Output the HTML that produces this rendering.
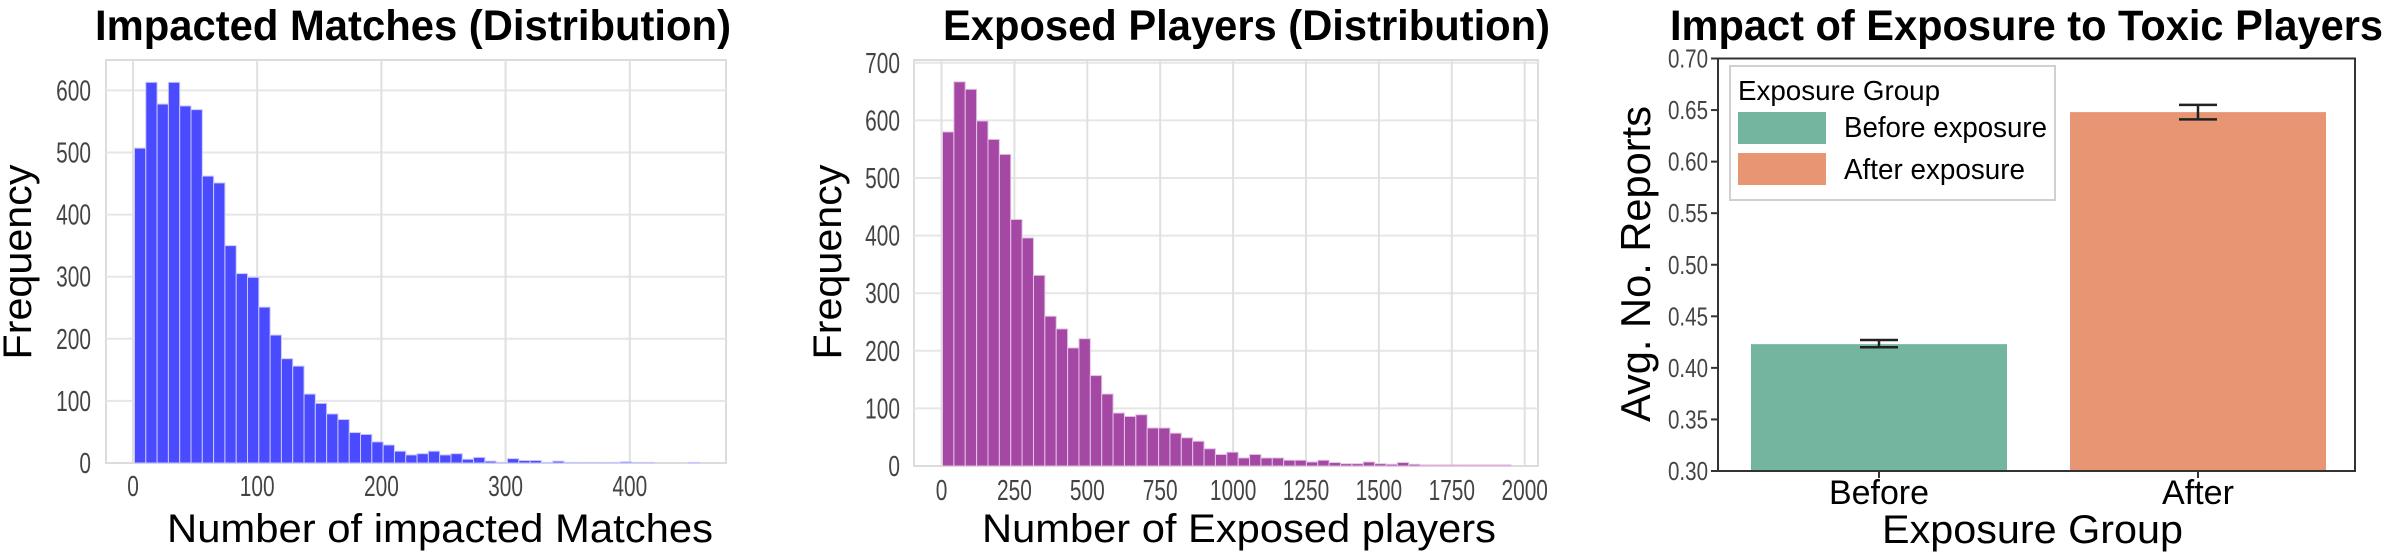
<!DOCTYPE html>
<html><head><meta charset="utf-8"><style>
html,body{margin:0;padding:0;background:#fff;}
svg{display:block;}
</style></head><body>
<svg id="fig" width="2385" height="553" viewBox="0 0 2385 553" xmlns="http://www.w3.org/2000/svg" font-family="Liberation Sans, sans-serif"></svg>
<script>
// ---- Chart 1 data ----
const c1BinWidth = 9.1;
const c1Counts = [507,613,578,613,575,569,462,451,350,305,299,251,206,168,156,111,96,79,70,49,46,34,29,19,13,15,19,13,15,6,9,3,1,7,4,4,1,3,1,1,1,1,1,2,1,1,0,0,0,1];
const c1XTicks = [0,100,200,300,400];
const c1YTicks = [0,100,200,300,400,500,600];
// ---- Chart 2 data ----
const c2BinWidth = 39;
const c2Counts = [580,667,654,599,567,541,428,396,331,260,238,205,221,157,125,92,86,89,66,66,57,49,43,30,20,24,14,20,14,14,10,10,7,10,6,4,4,7,4,3,6,3,2,2,2,2,2,2,2,2];
const c2XTicks = [0,250,500,750,1000,1250,1500,1750,2000];
const c2YTicks = [0,100,200,300,400,500,600,700];
// ---- Chart 3 data ----
const c3Categories = ["Before","After"];
const c3Values = [0.423,0.648];
const c3ErrLow = [0.420,0.641];
const c3ErrHigh = [0.427,0.655];
const c3YTicks = [0.30,0.35,0.40,0.45,0.50,0.55,0.60,0.65,0.70];
const c3YTickLabels = ["0.30","0.35","0.40","0.45","0.50","0.55","0.60","0.65","0.70"];
const c3Legend = ["Before exposure","After exposure"];

const NS="http://www.w3.org/2000/svg";
const svg=document.getElementById('fig');
function mk(tag,attrs,parent){const e=document.createElementNS(NS,tag);for(const k in attrs)e.setAttribute(k,attrs[k]);(parent||svg).appendChild(e);return e;}
function txt(s,attrs,parent){const e=mk('text',attrs,parent);e.textContent=s;return e;}
function narrow(s,fs){return s.length*0.556*fs*0.72;}

// ===== Chart 1 =====
(function(){
const g=mk('g',{});


const L=106,R=726,T=60,B=463;
const x=v=>133+v*1.242;
const y=v=>463-v*0.621;
mk('rect',{x:L,y:T,width:R-L,height:B-T,fill:'#fff',stroke:'#dcdcdc','stroke-width':2},g);
c1YTicks.forEach(t=>{if(t>0){const l=mk('line',{x1:L,x2:R,y1:y(t),y2:y(t),stroke:'#e6e6e6','stroke-width':2},g);}
 const s=String(t);const tl=txt(s,{x:91,y:y(t)+10,'font-size':29,fill:'#444','text-anchor':'end',textLength:narrow(s,29),lengthAdjust:'spacingAndGlyphs'},g);
 });
c1XTicks.forEach(t=>{const l=mk('line',{x1:x(t),x2:x(t),y1:T,y2:B,stroke:'#e0e0e0','stroke-width':2},g);
 const s=String(t);const tl=txt(s,{x:x(t),y:496,'font-size':29,fill:'#444','text-anchor':'middle',textLength:narrow(s,29),lengthAdjust:'spacingAndGlyphs'},g);
 });
c1Counts.forEach((c,i)=>{if(c<=0)return;const x0=x(i*c1BinWidth)+1.5,x1=x((i+1)*c1BinWidth)+1.5;
 const r=mk('rect',{x:x0,y:y(c),width:x1-x0,height:B-y(c),fill:'#4a4aff',stroke:'#c8c8ff','stroke-width':1},g);
 });
const t=txt('Impacted Matches (Distribution)',{x:95,y:40,'font-size':43,'font-weight':'bold',textLength:636,lengthAdjust:'spacingAndGlyphs'},g);

const yl=txt('Frequency',{x:0,y:0,'font-size':40,'text-anchor':'middle',textLength:195,lengthAdjust:'spacingAndGlyphs',transform:'translate(31,262) rotate(-90)'},g);

const xl=txt('Number of impacted Matches',{x:167,y:542,'font-size':40,textLength:546,lengthAdjust:'spacingAndGlyphs'},g);

})();

// ===== Chart 2 =====
(function(){
const g=mk('g',{});


const L=914,R=1538,T=60,B=466;
const x=v=>941.5+v*0.2916;
const y=v=>466-v*0.576;
mk('rect',{x:L,y:T,width:R-L,height:B-T,fill:'#fff',stroke:'#dcdcdc','stroke-width':2},g);
c2YTicks.forEach(t=>{if(t>0){const l=mk('line',{x1:L,x2:R,y1:y(t),y2:y(t),stroke:'#e6e6e6','stroke-width':2},g);}
 const s=String(t);const tl=txt(s,{x:900,y:y(t)+10,'font-size':29,fill:'#444','text-anchor':'end',textLength:narrow(s,29),lengthAdjust:'spacingAndGlyphs'},g);
 });
c2XTicks.forEach(t=>{const l=mk('line',{x1:x(t),x2:x(t),y1:T,y2:B,stroke:'#e0e0e0','stroke-width':2},g);
 const s=String(t);const tl=txt(s,{x:x(t),y:500,'font-size':29,fill:'#444','text-anchor':'middle',textLength:narrow(s,29),lengthAdjust:'spacingAndGlyphs'},g);
 });
c2Counts.forEach((c,i)=>{if(c<=0)return;const x0=x(i*c2BinWidth)+1,x1=x((i+1)*c2BinWidth)+1;
 const r=mk('rect',{x:x0,y:y(c),width:x1-x0,height:B-y(c),fill:'#a548a5',stroke:'#e3c3e3','stroke-width':1},g);
 });
const t=txt('Exposed Players (Distribution)',{x:943,y:40,'font-size':43,'font-weight':'bold',textLength:607,lengthAdjust:'spacingAndGlyphs'},g);

const yl=txt('Frequency',{x:0,y:0,'font-size':40,'text-anchor':'middle',textLength:195,lengthAdjust:'spacingAndGlyphs',transform:'translate(841,262) rotate(-90)'},g);

const xl=txt('Number of Exposed players',{x:982,y:542,'font-size':40,textLength:514,lengthAdjust:'spacingAndGlyphs'},g);

})();

// ===== Chart 3 =====
(function(){
const g=mk('g',{});


const L=1718,R=2355,T=58.5,B=471;
const y=v=>471-(v-0.30)*(B-T)/0.40;
const colors=['#73b59f','#e89573'];
const centers=[1879,2198];
const labelW=[100,72];
const bw=256;
c3Values.forEach((v,i)=>{
 const r=mk('rect',{x:centers[i]-bw/2,y:y(v),width:bw,height:B-y(v),fill:colors[i]},g);
 
 const eb=mk('g',{stroke:'#222','stroke-width':2.5},g);
 
 mk('line',{x1:centers[i],x2:centers[i],y1:y(c3ErrLow[i]),y2:y(c3ErrHigh[i])},eb);
 mk('line',{x1:centers[i]-19,x2:centers[i]+19,y1:y(c3ErrLow[i]),y2:y(c3ErrLow[i])},eb);
 mk('line',{x1:centers[i]-19,x2:centers[i]+19,y1:y(c3ErrHigh[i]),y2:y(c3ErrHigh[i])},eb);
 mk('line',{x1:centers[i],x2:centers[i],y1:B,y2:B+7,stroke:'#333','stroke-width':2},g);
 const tl=txt(c3Categories[i],{x:centers[i],y:504,'font-size':34,'text-anchor':'middle',textLength:labelW[i],lengthAdjust:'spacingAndGlyphs'},g);
 
});
mk('rect',{x:L,y:T,width:R-L,height:B-T,fill:'none',stroke:'#333','stroke-width':2},g);
c3YTicks.forEach((t,i)=>{mk('line',{x1:L-7,x2:L,y1:y(t),y2:y(t),stroke:'#333','stroke-width':2},g);
 const s=c3YTickLabels[i];const tl=txt(s,{x:1708,y:y(t)+9,'font-size':26,fill:'#444','text-anchor':'end',textLength:40,lengthAdjust:'spacingAndGlyphs'},g);
 });
// legend
const lg=mk('g',{},g);

mk('rect',{x:1730,y:66,width:325,height:134,fill:'#fff',stroke:'#d0d0d0','stroke-width':2},lg);
const lt=txt('Exposure Group',{x:1738,y:100,'font-size':28,textLength:202,lengthAdjust:'spacingAndGlyphs'},lg);

c3Legend.forEach((s,i)=>{
 const e=mk('g',{},lg);
 
 mk('rect',{x:1738,y:112+i*41,width:88,height:32,fill:colors[i]},e);
 txt(s,{x:1844,y:137+i*42,'font-size':29,textLength:i===0?203:181,lengthAdjust:'spacingAndGlyphs'},e);
});
const t=txt('Impact of Exposure to Toxic Players',{x:1670,y:40,'font-size':43,'font-weight':'bold',textLength:713,lengthAdjust:'spacingAndGlyphs'},g);

const yl=txt('Avg. No. Reports',{x:0,y:0,'font-size':42,'text-anchor':'middle',textLength:316,lengthAdjust:'spacingAndGlyphs',transform:'translate(1650,264) rotate(-90)'},g);

const xl=txt('Exposure Group',{x:1882,y:543,'font-size':40,textLength:301,lengthAdjust:'spacingAndGlyphs'},g);

})();
</script>
</body></html>
